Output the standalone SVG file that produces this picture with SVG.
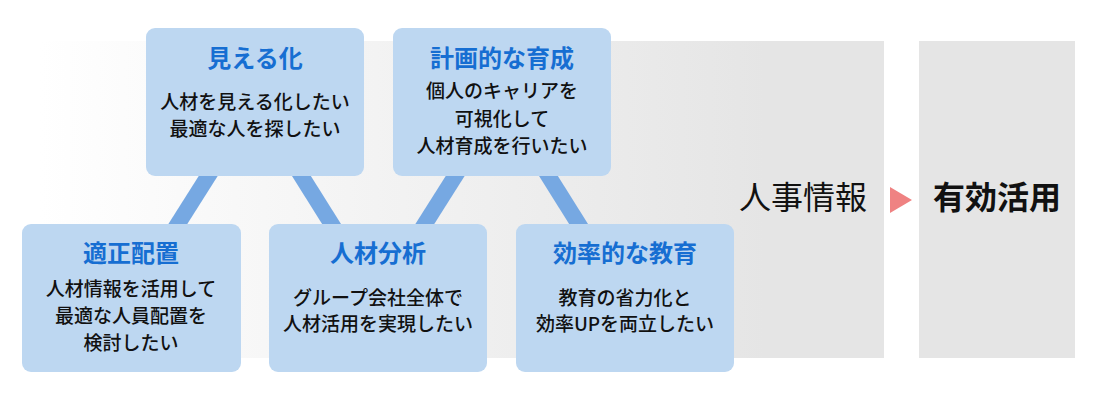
<svg xmlns="http://www.w3.org/2000/svg" width="1100" height="400" viewBox="0 0 1100 400">
<defs>
<linearGradient id="bg" x1="40" y1="0" x2="884" y2="0" gradientUnits="userSpaceOnUse">
<stop offset="0" stop-color="#ffffff"/>
<stop offset="0.86" stop-color="#e5e5e5"/>
<stop offset="1" stop-color="#e5e5e5"/>
</linearGradient>
</defs>
<style>
text{font-family:"Noto Sans CJK JP","Noto Sans",sans-serif;text-anchor:middle}
.box{fill:#bdd7f1}
.title{fill:#166ed2;font-size:24px;font-weight:bold}
.body{fill:#111;font-size:19px;font-weight:500}
.conn{stroke:#76a8e2;stroke-width:16;fill:none}
</style>
<rect x="40" y="41" width="844" height="317" fill="url(#bg)"/>
<rect x="919" y="41" width="156" height="317" fill="#e5e5e5"/>
<g id="connectors">
<line class="conn" x1="255" y1="102" x2="131" y2="298"/>
<line class="conn" x1="255" y1="102" x2="378" y2="298"/>
<line class="conn" x1="502" y1="102" x2="378" y2="298"/>
<line class="conn" x1="502" y1="102" x2="625" y2="298"/>
</g>
<g id="mieruka">
<rect class="box" x="146" y="28" width="218" height="148" rx="9"/>
<text class="title" x="255" y="67">見える化</text>
<text class="body" x="255" y="109">人材を見える化したい</text>
<text class="body" x="255" y="136">最適な人を探したい</text>
</g>
<g id="keikaku">
<rect class="box" x="393" y="28" width="218" height="148" rx="9"/>
<text class="title" x="502" y="67">計画的な育成</text>
<text class="body" x="502" y="98">個人のキャリアを</text>
<text class="body" x="502" y="126">可視化して</text>
<text class="body" x="502" y="153">人材育成を行いたい</text>
</g>
<g id="tekisei">
<rect class="box" x="22" y="224" width="219" height="148" rx="9"/>
<text class="title" x="131" y="262">適正配置</text>
<text class="body" x="131" y="296">人材情報を活用して</text>
<text class="body" x="131" y="323">最適な人員配置を</text>
<text class="body" x="131" y="350">検討したい</text>
</g>
<g id="bunseki">
<rect class="box" x="269" y="224" width="218" height="148" rx="9"/>
<text class="title" x="378" y="262">人材分析</text>
<text class="body" x="378" y="305">グループ会社全体で</text>
<text class="body" x="378" y="331">人材活用を実現したい</text>
</g>
<g id="kyoiku">
<rect class="box" x="516" y="224" width="218" height="148" rx="9"/>
<text class="title" x="625" y="262">効率的な教育</text>
<text class="body" x="625" y="305">教育の省力化と</text>
<text class="body" x="625" y="331">効率UPを両立したい</text>
</g>
<g id="jinji">
<text x="803" y="209" fill="#111" font-size="32">人事情報</text>
</g>
<g id="arrow">
<polygon points="890,187 912,200 890,213" fill="#ef8282"/>
</g>
<g id="katsuyo">
<text x="997" y="209" fill="#111" font-size="32" font-weight="bold">有効活用</text>
</g>
</svg>
